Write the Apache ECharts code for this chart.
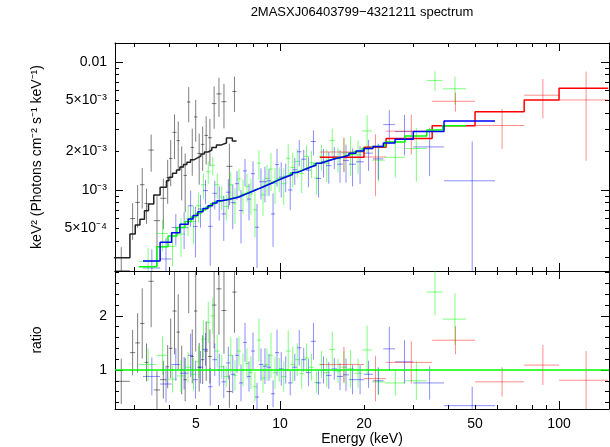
<!DOCTYPE html>
<html>
<head>
<meta charset="utf-8">
<script src="https://cdn.jsdelivr.net/npm/echarts@6/dist/echarts.min.js"></script>
<style>
  html, body { margin: 0; padding: 0; background: #fff; }
  #chart { width: 610px; height: 447px; }
</style>
</head>
<body>
<div id="chart"></div>
<script>
// bin edges in keV, fluxes in keV^2 (Photons cm^-2 s^-1 keV^-1)
var blackEdges = [2.50, 2.90, 3.03, 3.15, 3.27, 3.38, 3.53, 3.72, 3.92, 4.00, 4.12, 4.26, 4.38, 4.51, 4.64, 4.78, 4.92, 5.06, 5.21, 5.36, 5.52, 5.70, 5.92, 6.17, 6.43, 6.75, 6.99];
var blackModel = [2.96e-4, 4.53e-4, 5.33e-4, 5.90e-4, 6.89e-4, 7.77e-4, 9.14e-4, 1.05e-3, 1.18e-3, 1.26e-3, 1.35e-3, 1.43e-3, 1.51e-3, 1.58e-3, 1.65e-3, 1.72e-3, 1.78e-3, 1.84e-3, 1.91e-3, 1.98e-3, 2.05e-3, 2.15e-3, 2.25e-3, 2.33e-3, 2.55e-3, 2.41e-3];
var blackFlux = [2.34e-4, 5.98e-4, 8.0e-4, 1.10e-3, 7.85e-4, 2.05e-3, 5.76e-4, 8.61e-4, 1.25e-3, 1.76e-3, 2.82e-3, 2.43e-3, 1.51e-3, 1.30e-3, 4.87e-3, 2.15e-3, 3.72e-3, 1.93e-3, 2.27e-3, 2.67e-3, 2.56e-3, 4.73e-3, 5.63e-3, 4.89e-3, 1.53e-3, 5.88e-3];
var blackErr = [1.24e-4, 1.90e-4, 2.93e-4, 3.84e-4, 2.41e-4, 6.6e-4, 3.2e-4, 3.68e-4, 4.7e-4, 6.9e-4, 1.08e-3, 1.0e-3, 6.8e-4, 6.3e-4, 1.49e-3, 8.6e-4, 1.34e-3, 8.3e-4, 8.6e-4, 1.09e-3, 1.03e-3, 1.72e-3, 1.91e-3, 1.86e-3, 7.7e-4, 1.81e-3];
var blackRatio = [0.79, 1.32, 1.50, 1.86, 1.14, 2.64, 0.63, 0.82, 1.06, 1.40, 2.09, 1.70, 1.00, 0.82, 2.95, 1.25, 2.09, 1.05, 1.19, 1.35, 1.25, 2.20, 2.50, 2.10, 0.60, 2.44];
var blackRatioErr = [0.42, 0.42, 0.55, 0.65, 0.35, 0.85, 0.35, 0.35, 0.40, 0.55, 0.80, 0.70, 0.45, 0.40, 0.90, 0.50, 0.75, 0.45, 0.45, 0.55, 0.50, 0.80, 0.85, 0.80, 0.30, 0.75];

var greenEdges = [3.12, 3.62, 3.97, 4.27, 4.57, 4.80, 5.00, 5.21, 5.43, 5.64, 5.85, 6.07, 6.30, 6.54, 6.79, 7.01, 7.25, 7.49, 7.74, 8.00, 8.27, 8.55, 8.84, 9.13, 9.44, 9.76, 10.12, 10.51, 10.90, 11.32, 11.75, 12.19, 12.70, 13.24, 13.80, 14.38, 15.04, 15.74, 16.54, 17.39, 18.42, 19.68, 21.37, 23.78, 28.05, 33.57, 38.30, 46.42];
var greenModel = [2.52e-4, 3.61e-4, 4.37e-4, 5.09e-4, 5.67e-4, 6.15e-4, 6.55e-4, 6.98e-4, 7.37e-4, 7.78e-4, 8.13e-4, 8.31e-4, 8.47e-4, 8.63e-4, 8.77e-4, 9.01e-4, 9.30e-4, 9.56e-4, 9.82e-4, 1.014e-3, 1.044e-3, 1.079e-3, 1.114e-3, 1.15e-3, 1.19e-3, 1.23e-3, 1.27e-3, 1.31e-3, 1.36e-3, 1.40e-3, 1.45e-3, 1.50e-3, 1.55e-3, 1.61e-3, 1.66e-3, 1.71e-3, 1.76e-3, 1.80e-3, 1.86e-3, 1.92e-3, 2.00e-3, 2.11e-3, 2.19e-3, 2.37e-3, 2.64e-3, 2.94e-3, 3.18e-3];
var greenFlux = [2.77e-4, 4.58e-4, 3.63e-4, 4.53e-4, 5.95e-4, 5.66e-4, 7.53e-4, 1.10e-3, 1.39e-3, 1.56e-3, 1.10e-3, 8.81e-4, 7.45e-4, 1.10e-3, 7.89e-4, 1.22e-3, 9.30e-4, 1.07e-3, 9.33e-4, 7.00e-4, 1.62e-3, 9.17e-4, 1.23e-3, 1.46e-3, 1.13e-3, 1.23e-3, 1.12e-3, 1.77e-3, 1.50e-3, 1.67e-3, 1.35e-3, 1.83e-3, 1.63e-3, 1.24e-3, 1.83e-3, 1.62e-3, 2.43e-3, 1.76e-3, 1.95e-3, 1.96e-3, 1.88e-3, 2.89e-3, 1.71e-3, 1.80e-3, 2.11e-3, 7.17e-3, 6.17e-3];
var greenErr = [7.6e-5, 1.26e-4, 1.09e-4, 1.53e-4, 1.59e-4, 1.85e-4, 1.97e-4, 2.44e-4, 2.80e-4, 2.57e-4, 2.44e-4, 1.83e-4, 1.69e-4, 2.85e-4, 2.46e-4, 2.43e-4, 2.79e-4, 2.68e-4, 2.95e-4, 2.74e-4, 4.18e-4, 2.91e-4, 3.34e-4, 4.83e-4, 3.57e-4, 2.71e-4, 3.56e-4, 4.98e-4, 4.49e-4, 4.20e-4, 4.06e-4, 4.05e-4, 3.88e-4, 3.22e-4, 4.15e-4, 4.62e-4, 5.81e-4, 3.96e-4, 5.58e-4, 6.72e-4, 5.40e-4, 9.50e-4, 5.48e-4, 5.45e-4, 9.50e-4, 1.26e-3, 1.53e-3];
var greenRatio = [1.10, 1.27, 0.83, 0.89, 1.05, 0.92, 1.15, 1.57, 1.88, 2.00, 1.35, 1.06, 0.88, 1.27, 0.90, 1.35, 1.00, 1.12, 0.95, 0.69, 1.55, 0.85, 1.10, 1.27, 0.95, 1.00, 0.88, 1.35, 1.10, 1.19, 0.93, 1.22, 1.05, 0.77, 1.10, 0.95, 1.38, 0.98, 1.05, 1.02, 0.94, 1.37, 0.78, 0.76, 0.80, 2.44, 1.94];
var greenRatioErr = [0.30, 0.35, 0.25, 0.30, 0.28, 0.30, 0.30, 0.35, 0.38, 0.33, 0.30, 0.22, 0.20, 0.33, 0.28, 0.27, 0.30, 0.28, 0.30, 0.27, 0.40, 0.27, 0.30, 0.42, 0.30, 0.22, 0.28, 0.38, 0.33, 0.30, 0.28, 0.27, 0.25, 0.20, 0.25, 0.27, 0.33, 0.22, 0.30, 0.35, 0.27, 0.45, 0.25, 0.23, 0.36, 0.43, 0.48];

var blueEdges = [3.23, 3.72, 4.09, 4.38, 4.69, 4.88, 5.08, 5.30, 5.52, 5.73, 5.95, 6.17, 6.41, 6.65, 6.90, 7.13, 7.37, 7.62, 7.87, 8.14, 8.41, 8.69, 8.98, 9.29, 9.60, 9.92, 10.29, 10.68, 11.09, 11.51, 11.94, 12.39, 12.91, 13.46, 14.03, 14.62, 15.30, 16.01, 16.82, 17.67, 18.73, 20.0, 21.54, 23.46, 25.84, 30.05, 38.71, 58.97];
var blueModel = [2.79e-4, 3.90e-4, 4.64e-4, 5.40e-4, 5.93e-4, 6.32e-4, 6.77e-4, 7.17e-4, 7.53e-4, 7.92e-4, 8.23e-4, 8.35e-4, 8.50e-4, 8.66e-4, 8.82e-4, 9.09e-4, 9.36e-4, 9.65e-4, 9.95e-4, 1.024e-3, 1.055e-3, 1.088e-3, 1.124e-3, 1.161e-3, 1.20e-3, 1.24e-3, 1.28e-3, 1.32e-3, 1.37e-3, 1.41e-3, 1.46e-3, 1.51e-3, 1.56e-3, 1.62e-3, 1.67e-3, 1.72e-3, 1.77e-3, 1.81e-3, 1.87e-3, 1.94e-3, 2.02e-3, 2.11e-3, 2.19e-3, 2.33e-3, 2.49e-3, 2.86e-3, 3.46e-3];
var blueFlux = [2.46e-4, 2.89e-4, 5.10e-4, 5.08e-4, 7.53e-4, 5.18e-4, 7.11e-4, 9.89e-4, 5.20e-4, 9.42e-4, 8.23e-4, 6.51e-4, 9.61e-4, 7.97e-4, 1.12e-3, 6.91e-4, 1.41e-3, 8.49e-4, 1.34e-3, 5.12e-4, 1.16e-3, 1.16e-3, 1.18e-3, 6.50e-4, 1.58e-3, 1.26e-3, 1.28e-3, 1.00e-3, 1.44e-3, 1.99e-3, 1.74e-3, 1.43e-3, 2.39e-3, 1.23e-3, 1.67e-3, 1.55e-3, 1.81e-3, 1.59e-3, 1.70e-3, 1.59e-3, 1.66e-3, 1.94e-3, 1.75e-3, 3.24e-3, 2.86e-3, 2.17e-3, 1.18e-3];
var blueErr = [9.8e-5, 1.33e-4, 1.39e-4, 1.62e-4, 2.37e-4, 2.21e-4, 2.03e-4, 2.15e-4, 2.64e-4, 2.38e-4, 2.47e-4, 2.51e-4, 2.55e-4, 3.03e-4, 2.82e-4, 3.09e-4, 3.37e-4, 2.70e-4, 3.38e-4, 2.66e-4, 3.17e-4, 3.59e-4, 2.81e-4, 2.90e-4, 5.16e-4, 3.84e-4, 3.20e-4, 3.04e-4, 3.43e-4, 4.65e-4, 3.21e-4, 3.78e-4, 5.30e-4, 3.56e-4, 4.18e-4, 4.30e-4, 3.54e-4, 4.53e-4, 5.61e-4, 5.24e-4, 5.45e-4, 5.28e-4, 5.48e-4, 9.55e-4, 9.96e-4, 8.87e-4, 1.21e-3];
var blueRatio = [0.88, 0.74, 1.10, 0.94, 1.27, 0.82, 1.05, 1.38, 0.69, 1.19, 1.00, 0.78, 1.13, 0.92, 1.27, 0.76, 1.51, 0.88, 1.35, 0.50, 1.10, 1.07, 1.05, 0.56, 1.32, 1.02, 1.00, 0.76, 1.05, 1.41, 1.19, 0.95, 1.53, 0.76, 1.00, 0.90, 1.02, 0.88, 0.91, 0.82, 0.82, 0.92, 0.80, 1.39, 1.15, 0.76, 0.34];
var blueRatioErr = [0.35, 0.34, 0.30, 0.30, 0.40, 0.35, 0.30, 0.30, 0.35, 0.30, 0.30, 0.30, 0.30, 0.35, 0.32, 0.34, 0.36, 0.28, 0.34, 0.26, 0.30, 0.33, 0.25, 0.25, 0.43, 0.31, 0.25, 0.23, 0.25, 0.33, 0.22, 0.25, 0.34, 0.22, 0.25, 0.25, 0.20, 0.25, 0.30, 0.27, 0.27, 0.25, 0.25, 0.41, 0.40, 0.31, 0.35];

var redEdges = [13.9, 20, 24, 35.1, 50, 75, 100, 150];
var redModel = [1.80e-3, 2.16e-3, 2.53e-3, 3.18e-3, 4.09e-3, 5.05e-3, 6.23e-3];
var redFlux = [1.98e-3, 1.81e-3, 2.88e-3, 4.93e-3, 3.19e-3, 5.5e-3, 5.05e-3];
var redErr = [6.0e-4, 9.1e-4, 9.9e-4, 8.3e-4, 1.1e-3, 1.87e-3, 3.36e-3];
var redRatio = [1.10, 0.84, 1.14, 1.55, 0.78, 1.09, 0.81];
var redRatioErr = [0.33, 0.42, 0.39, 0.26, 0.27, 0.37, 0.54];

// axis ranges and ticks
var energyRange = [2.564, 151];
var fluxRange = [2.33e-4, 0.01406];
var ratioRange = [0.278, 2.83];
var xMajorTicks = [10, 100];
var xMinorTicks = [3, 4, 5, 6, 7, 8, 9, 20, 30, 40, 50, 60, 70, 80, 90];
var xLabelTicks = [5, 10, 20, 50, 100];
var yMajorTicks = [0.001, 0.01];
var yMinorTicks = [3e-4, 4e-4, 5e-4, 6e-4, 7e-4, 8e-4, 9e-4, 0.002, 0.003, 0.004, 0.005, 0.006, 0.007, 0.008, 0.009];
var yLabelTicks = [0.01, 0.005, 0.002, 0.001, 0.0005];
var yLabelText = ['0.01', '5×10⁻³', '2×10⁻³', '10⁻³', '5×10⁻⁴'];
var ratioMajorTicks = [1, 2];
var ratioMinorTicks = [0.4, 0.6, 0.8, 1.2, 1.4, 1.6, 1.8, 2.2, 2.4, 2.6, 2.8];

var FONT = 'Liberation Sans, Arial, Helvetica, sans-serif';
var lg = Math.log10;

function crossData(edges, vals, errs, logY) {
  return vals.map(function (v, i) {
    var lo = edges[i], hi = edges[i + 1], c = (lo + hi) / 2;
    var y0 = v - errs[i], y1 = v + errs[i];
    if (logY) return [lg(lo), lg(hi), lg(c), lg(v), lg(Math.max(y0, 1e-7)), lg(y1)];
    return [lg(lo), lg(hi), lg(c), v, y0, y1];
  });
}

function stepData(edges, vals) {
  var out = [];
  vals.forEach(function (v, i) {
    out.push([lg(edges[i]), lg(v)], [lg(edges[i + 1]), lg(v)]);
  });
  return out;
}

function crossSeries(data, color, axisIdx) {
  return {
    type: 'custom', xAxisIndex: axisIdx, yAxisIndex: axisIdx, clip: true, silent: true,
    data: data,
    encode: { x: [0, 1, 2], y: [3, 4, 5] },
    renderItem: function (params, api) {
      var a = api.coord([api.value(0), api.value(3)]);
      var b = api.coord([api.value(1), api.value(3)]);
      var lo = api.coord([api.value(2), api.value(4)]);
      var hi = api.coord([api.value(2), api.value(5)]);
      var st = { stroke: color, lineWidth: 1 };
      return {
        type: 'group', children: [
          { type: 'line', shape: { x1: a[0], y1: a[1], x2: b[0], y2: b[1] }, style: st },
          { type: 'line', shape: { x1: lo[0], y1: lo[1], x2: hi[0], y2: hi[1] }, style: st }
        ]
      };
    }
  };
}

function stepSeries(edges, vals, color) {
  return {
    type: 'line', xAxisIndex: 0, yAxisIndex: 0, silent: true, showSymbol: false,
    data: stepData(edges, vals),
    lineStyle: { color: color, width: 1.5 }
  };
}

function mkAxis(grid, pos, range, ticks, len, showLine, labelVals, fmt) {
  var ax = {
    type: 'value', gridIndex: grid, position: pos, min: range[0], max: range[1],
    axisLine: { show: showLine, onZero: false, lineStyle: { color: '#000', width: 1 } },
    axisTick: { show: true, inside: true, length: len, customValues: ticks, lineStyle: { color: '#000', width: 1 } },
    axisLabel: { show: false },
    splitLine: { show: false }
  };
  if (labelVals) {
    ax.axisLabel = { show: true, customValues: labelVals, formatter: fmt, color: '#000',
      fontFamily: FONT, fontSize: 14, margin: 8 };
  }
  return ax;
}

var xr = energyRange.map(lg);
var yr = fluxRange.map(lg);
var xMin = xMinorTicks.map(lg), xMaj = xMajorTicks.map(lg), xLab = xLabelTicks.map(lg);
var yMin = yMinorTicks.map(lg), yMaj = yMajorTicks.map(lg), yLab = yLabelTicks.map(lg);

function xFmt(v) { return String(Math.round(Math.pow(10, v))); }
function yFmt(v) {
  for (var i = 0; i < yLab.length; i++) if (Math.abs(yLab[i] - v) < 1e-6) return yLabelText[i];
  return '';
}

var xAxes = [
  mkAxis(0, 'bottom', xr, xMin, 4, true),
  mkAxis(0, 'bottom', xr, xMaj, 8, false),
  mkAxis(0, 'top', xr, xMin, 4, true),
  mkAxis(0, 'top', xr, xMaj, 8, false),
  mkAxis(1, 'bottom', xr, xMin, 4, true),
  mkAxis(1, 'bottom', xr, xMaj, 8, false, xLab, xFmt),
  mkAxis(1, 'top', xr, xMin, 4, true),
  mkAxis(1, 'top', xr, xMaj, 8, false)
];
xAxes[5].name = 'Energy (keV)';
xAxes[5].nameLocation = 'middle';
xAxes[5].nameGap = 22;
xAxes[5].nameTextStyle = { fontFamily: FONT, fontSize: 14, color: '#000' };

var yAxes = [
  mkAxis(0, 'left', yr, yMin, 4, true),
  mkAxis(0, 'left', yr, yMaj, 8, false, yLab, yFmt),
  mkAxis(0, 'right', yr, yMin, 4, true),
  mkAxis(0, 'right', yr, yMaj, 8, false),
  mkAxis(1, 'left', ratioRange, ratioMinorTicks, 4, true),
  mkAxis(1, 'left', ratioRange, ratioMajorTicks, 8, false, ratioMajorTicks, function (v) { return String(v); }),
  mkAxis(1, 'right', ratioRange, ratioMinorTicks, 4, true),
  mkAxis(1, 'right', ratioRange, ratioMajorTicks, 8, false)
];
yAxes[1].name = 'keV² (Photons cm⁻² s⁻¹ keV⁻¹)';
yAxes[5].name = 'ratio';
[1, 5].forEach(function (i) {
  yAxes[i].nameLocation = 'middle';
  yAxes[i].nameGap = 71;
  yAxes[i].nameTextStyle = { fontFamily: FONT, fontSize: 14, color: '#000' };
});

var series = [
  crossSeries(crossData(blackEdges, blackFlux, blackErr, true), 'rgba(0,0,0,0.5)', 0),
  crossSeries(crossData(greenEdges, greenFlux, greenErr, true), 'rgba(0,255,0,0.5)', 0),
  crossSeries(crossData(blueEdges, blueFlux, blueErr, true), 'rgba(0,0,255,0.45)', 0),
  crossSeries(crossData(redEdges, redFlux, redErr, true), 'rgba(255,0,0,0.45)', 0),
  stepSeries(blackEdges, blackModel, '#222'),
  stepSeries(redEdges, redModel, '#ff0000'),
  stepSeries(greenEdges, greenModel, '#00ff00'),
  stepSeries(blueEdges, blueModel, '#0000ff'),
  crossSeries(crossData(blackEdges, blackRatio, blackRatioErr, false), 'rgba(0,0,0,0.5)', 4),
  crossSeries(crossData(greenEdges, greenRatio, greenRatioErr, false), 'rgba(0,255,0,0.5)', 4),
  crossSeries(crossData(blueEdges, blueRatio, blueRatioErr, false), 'rgba(0,0,255,0.45)', 4),
  crossSeries(crossData(redEdges, redRatio, redRatioErr, false), 'rgba(255,0,0,0.45)', 4),
  {
    type: 'line', xAxisIndex: 4, yAxisIndex: 4, silent: true, showSymbol: false,
    data: [[xr[0], 1], [xr[1], 1]],
    lineStyle: { color: '#00ff00', width: 1.5 }
  }
];

var chart = echarts.init(document.getElementById('chart'), null, { renderer: 'canvas' });
chart.setOption({
  animation: false,
  backgroundColor: '#fff',
  graphic: [{
    type: 'text', x: 362, y: 6,
    style: { text: '2MASXJ06403799−4321211 spectrum', fill: '#000', font: '13px ' + FONT, textAlign: 'center' }
  }],
  grid: [
    { left: 115, top: 43, width: 494, height: 228 },
    { left: 115, top: 271, width: 494, height: 138 }
  ],
  xAxis: xAxes,
  yAxis: yAxes,
  series: series
});
</script>
</body>
</html>
